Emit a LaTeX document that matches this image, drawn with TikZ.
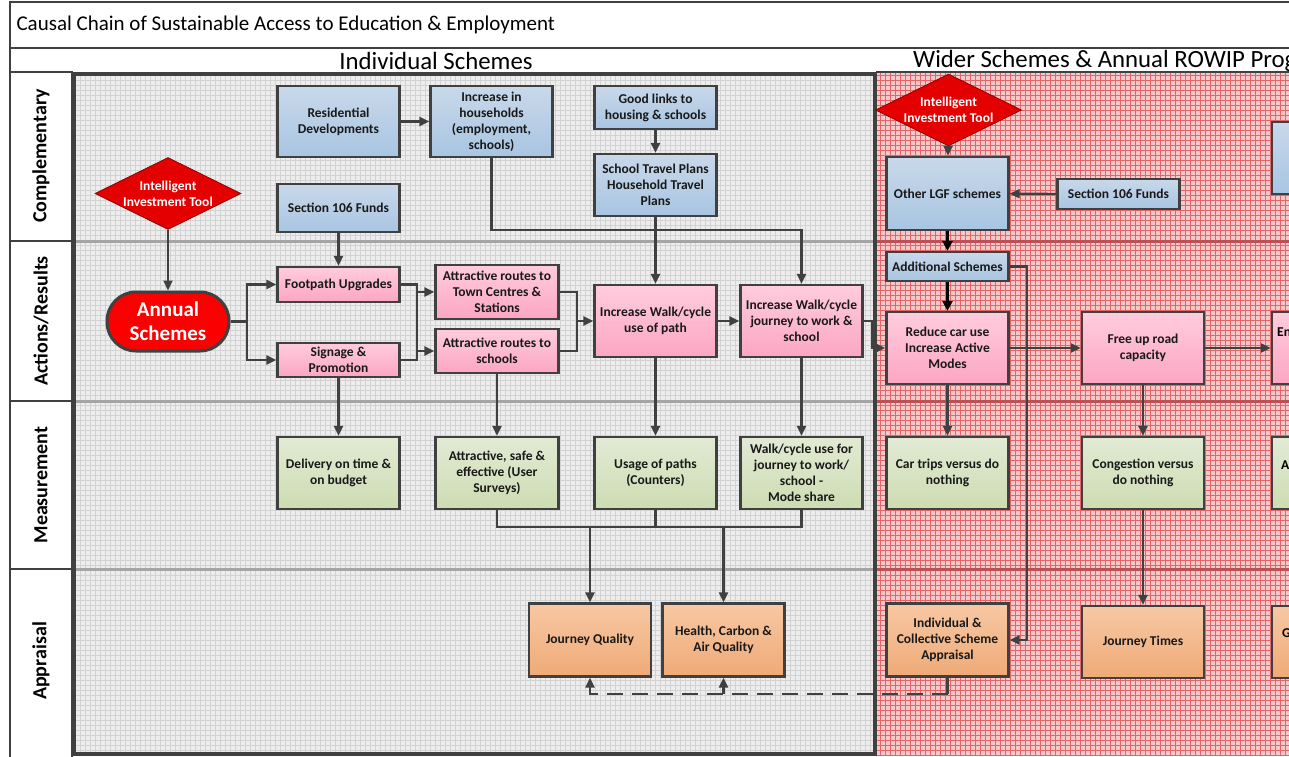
\documentclass[tikz,border=0pt]{standalone}
\usepackage{fontspec}
\setmainfont{Carlito}
\usetikzlibrary{shapes.geometric,arrows.meta}
\definecolor{edgegray}{RGB}{64,64,64}
\definecolor{bluetop}{RGB}{201,216,234}
\definecolor{bluebot}{RGB}{168,197,226}
\definecolor{pinktop}{RGB}{255,204,220}
\definecolor{pinkbot}{RGB}{252,166,196}
\definecolor{greentop}{RGB}{226,234,212}
\definecolor{greenbot}{RGB}{205,220,178}
\definecolor{orangetop}{RGB}{247,200,164}
\definecolor{orangebot}{RGB}{239,170,118}
\definecolor{toolred}{RGB}{228,0,0}
\definecolor{schemered}{RGB}{250,0,0}
\definecolor{gridback}{RGB}{237,237,237}
\definecolor{gridline}{RGB}{210,210,210}
\definecolor{pinkback}{RGB}{247,200,202}
\definecolor{pinkline}{RGB}{228,100,104}
\definecolor{laneline}{RGB}{165,165,165}
\definecolor{lanered}{RGB}{188,80,84}
\begin{document}
\begin{tikzpicture}[x=1pt, y=-1pt,
    box/.style={draw=edgegray, line width=2.2pt, minimum width=122pt, minimum height=71pt,
      align=center, inner sep=2pt, text=black!90, font=\fontsize{13.5}{16}\selectfont\bfseries},
    bluebox/.style={box, top color=bluetop, bottom color=bluebot},
    pinkbox/.style={box, top color=pinktop, bottom color=pinkbot},
    greenbox/.style={box, top color=greentop, bottom color=greenbot},
    orangebox/.style={box, top color=orangetop, bottom color=orangebot},
    tool/.style={diamond, aspect=2, fill=toolred, draw=red!55!black, line width=0.8pt, inner sep=0pt,
      minimum width=146pt, minimum height=72pt, align=center, text=white,
      font=\fontsize{13.5}{16}\selectfont\bfseries},
    lanelabel/.style={rotate=90, font=\fontsize{20}{24}\selectfont\bfseries},
    lanecell/.style={draw=edgegray, line width=2pt, fill=white},
    cuttext/.style={anchor=west, inner sep=0pt, font=\fontsize{13.5}{16}\selectfont\bfseries},
    conn/.style={draw=edgegray, line width=2.1pt},
    arr/.style={conn, -{Triangle[length=10pt,width=9pt]}},
    blackarr/.style={draw=black, line width=2.6pt, -{Triangle[length=10pt,width=10pt]}}]
  \useasboundingbox (0,0) rectangle (1289,756);
  \clip (0,0) rectangle (1289,756);
  \fill[white] (0,0) rectangle (1289,756);
  \fill[gridback] (72,72) rectangle (876,756);
  \draw[gridline, line width=0.4pt, step=5pt] (72,72) grid (876,756);
  \fill[pinkback] (876,72) rectangle (1289,756);
  \draw[pinkline, line width=0.7pt, step=5pt] (876,72) grid (1289,756);
  \foreach \y in {241,401,569} {
    \draw[laneline, line width=3pt] (72,\y) -- (876,\y);
    \draw[lanered, line width=3pt] (876,\y) -- (1289,\y);
  }
  \draw[edgegray, line width=2pt] (876,72) -- (1289,72);
  \draw[edgegray, line width=2pt] (1295,2) -- (10,2) -- (10,760);
  \draw[edgegray, line width=2pt] (10,48) -- (1295,48);
  \draw[lanecell] (10,72) rectangle (72,241);
  \draw[lanecell] (10,241) rectangle (72,401);
  \draw[lanecell] (10,401) rectangle (72,569);
  \draw[lanecell] (10,569) rectangle (72,760);
  \draw[edgegray, line width=4pt] (74,74) rectangle (875,754);

  \node (title) [anchor=west, font=\fontsize{21}{24}\selectfont] at (13,25) {Causal Chain of Sustainable Access to Education \& Employment};
  \node (indhead) [font=\fontsize{24.8}{26}\selectfont] at (436,61) {Individual Schemes};
  \node (widehead) [anchor=west, inner sep=0pt, font=\fontsize{24.8}{26}\selectfont] at (913,61) {Wider Schemes \& Annual ROWIP Programme};
  \node (lane1) [lanelabel] at (41,156) {Complementary};
  \node (lane2) [lanelabel] at (41,321) {Actions/Results};
  \node (lane3) [lanelabel] at (41,485) {Measurement};
  \node (lane4) [lanelabel] at (41,661) {Appraisal};

  \node (res) [bluebox] at (338.5,121.5) {Residential\\Developments};
  \node (hh) [bluebox] at (491.5,121.5) {Increase in\\households\\(employment,\\schools)};
  \node (good) [bluebox, minimum height=43pt] at (655.5,107.5) {Good links to\\housing \& schools};
  \node (stp) [bluebox, minimum height=62pt] at (655.5,185) {School Travel Plans\\Household Travel\\Plans};
  \node (tool1) [tool] at (168,193.5) {Intelligent\\Investment Tool};
  \node (s106) [bluebox, minimum height=48pt] at (338.5,208) {Section 106 Funds};
  \node (tool2) [tool] at (948.5,110) {Intelligent\\Investment Tool};
  \node (lgf) [bluebox, minimum height=73pt] at (947.5,193.5) {Other LGF schemes};
  \node (s106b) [bluebox, minimum height=30pt] at (1118.5,194) {Section 106 Funds};
  \node (bluepart) [bluebox, minimum height=72pt] at (1333,158) {};

  \node (ann) [draw=edgegray, line width=3pt, fill=schemered, rounded corners=29pt, minimum width=122pt,
    minimum height=59pt, align=center, text=white, font=\fontsize{21}{24}\selectfont\bfseries] at (168,321.5) {Annual\\Schemes};
  \node (foot) [pinkbox, minimum height=35pt] at (338.5,284.5) {Footpath Upgrades};
  \node (sign) [pinkbox, minimum height=34pt] at (338.5,360) {Signage \&\\Promotion};
  \node (town) [pinkbox, minimum width=123pt, minimum height=54pt] at (497,292) {Attractive routes to\\Town Centres \&\\Stations};
  \node (sch) [pinkbox, minimum width=123pt, minimum height=44pt] at (497,351) {Attractive routes to\\schools};
  \node (path) [pinkbox, minimum height=72pt] at (655.5,321) {Increase Walk/cycle\\use of path};
  \node (wj) [pinkbox, minimum height=72pt] at (801.5,321) {Increase Walk/cycle\\journey to work \&\\school};
  \node (add) [bluebox, minimum height=29pt] at (947.5,266.5) {Additional Schemes};
  \node (red) [pinkbox, minimum height=72pt] at (947.5,348) {Reduce car use\\Increase Active\\Modes};
  \node (free) [pinkbox, minimum height=72pt] at (1143,348) {Free up road\\capacity};
  \node (enpart) [pinkbox, minimum height=72pt] at (1333,348) {};
  \node (entext) [cuttext] at (1277,332) {En};

  \node (deliv) [greenbox, minimum height=72pt] at (338.5,473) {Delivery on time \&\\on budget};
  \node (att) [greenbox, minimum width=123pt, minimum height=72pt] at (497,473) {Attractive, safe \&\\effective (User\\Surveys)};
  \node (use) [greenbox, minimum height=72pt] at (655.5,473) {Usage of paths\\(Counters)};
  \node (wm) [greenbox, minimum height=72pt] at (801.5,473) {Walk/cycle use for\\journey to work/\\school -\\Mode share};
  \node (car) [greenbox, minimum height=72pt] at (947.5,473) {Car trips versus do\\nothing};
  \node (cong) [greenbox, minimum height=72pt] at (1143,473) {Congestion versus\\do nothing};
  \node (apart) [greenbox, minimum height=72pt] at (1333,473) {};
  \node (atext) [cuttext] at (1281,465) {A};

  \node (jq) [orangebox, minimum height=73pt] at (590,640) {Journey Quality};
  \node (hc) [orangebox, minimum height=73pt] at (723.5,640) {Health, Carbon \&\\Air Quality};
  \node (ind) [orangebox, minimum height=73pt] at (947.5,640) {Individual \&\\Collective Scheme\\Appraisal};
  \node (jt) [orangebox, minimum height=72pt] at (1143,642) {Journey Times};
  \node (gpart) [orangebox, minimum height=72pt] at (1333,642) {};
  \node (gtext) [cuttext] at (1282,633) {G};

  \coordinate (hhturn) at (491.5,230);
  \coordinate (annbus) at (247,321.5);
  \coordinate (fsbus) at (417,292);
  \coordinate (tsbus) at (577,321);
  \coordinate (wjbus) at (872,348);
  \coordinate (mbus1) at (590,527);
  \coordinate (mbus2) at (723.5,527);
  \coordinate (dbus) at (947.5,694);
  \coordinate (addbus) at (1027,266.5);

  \draw[arr] (res) -- (hh);
  \draw[arr] (good) -- (stp);
  \draw[arr] (hh.south) -- (hhturn) -| (wj.north);
  \draw[arr] (stp) -- (path);
  \draw[arr] (tool1) -- (ann);
  \draw[arr] (s106) -- (foot);
  \draw[conn] (ann.east) -- (annbus);
  \draw[arr] (annbus) |- (foot.west);
  \draw[arr] (annbus) |- (sign.west);
  \draw[conn] (foot.east) -| (fsbus) |- (sign.east);
  \draw[arr] (fsbus) -- (town.west);
  \draw[arr] (fsbus |- sch.west) -- (sch.west);
  \draw[conn] (town.east) -| (tsbus) |- (sch.east);
  \draw[arr] (tsbus) -- (path.west);
  \draw[arr] (path) -- (wj);
  \draw[arr] (wj.east) -| (wjbus) -- (red.west);
  \draw[arr] (sign) -- (deliv);
  \draw[arr] (sch) -- (att);
  \draw[arr] (path) -- (use);
  \draw[arr] (wj) -- (wm);
  \draw[conn] (att.south) -- (att.south |- mbus1) -| (wm.south);
  \draw[conn] (use.south) -- (use.south |- mbus1);
  \draw[arr] (mbus1) -- (jq.north);
  \draw[arr] (mbus2) -- (hc.north);
  \draw[conn] (ind.south) -- (dbus);
  \draw[arr, dash pattern=on 16pt off 9pt] (dbus) -| (jq.south);
  \draw[arr] (hc.south |- dbus) -- (hc.south);

  \draw[arr] (tool2) -- (lgf);
  \draw[arr] (s106b) -- (lgf);
  \draw[blackarr] (lgf) -- (add);
  \draw[blackarr] (add) -- (red);
  \draw[arr] (add.east) -- (addbus) |- (ind.east);
  \draw[arr] (red) -- (free);
  \draw[arr] (free) -- (enpart);
  \draw[arr] (red) -- (car);
  \draw[arr] (free) -- (cong);
  \draw[arr] (cong) -- (jt);
\end{tikzpicture}
\end{document}
